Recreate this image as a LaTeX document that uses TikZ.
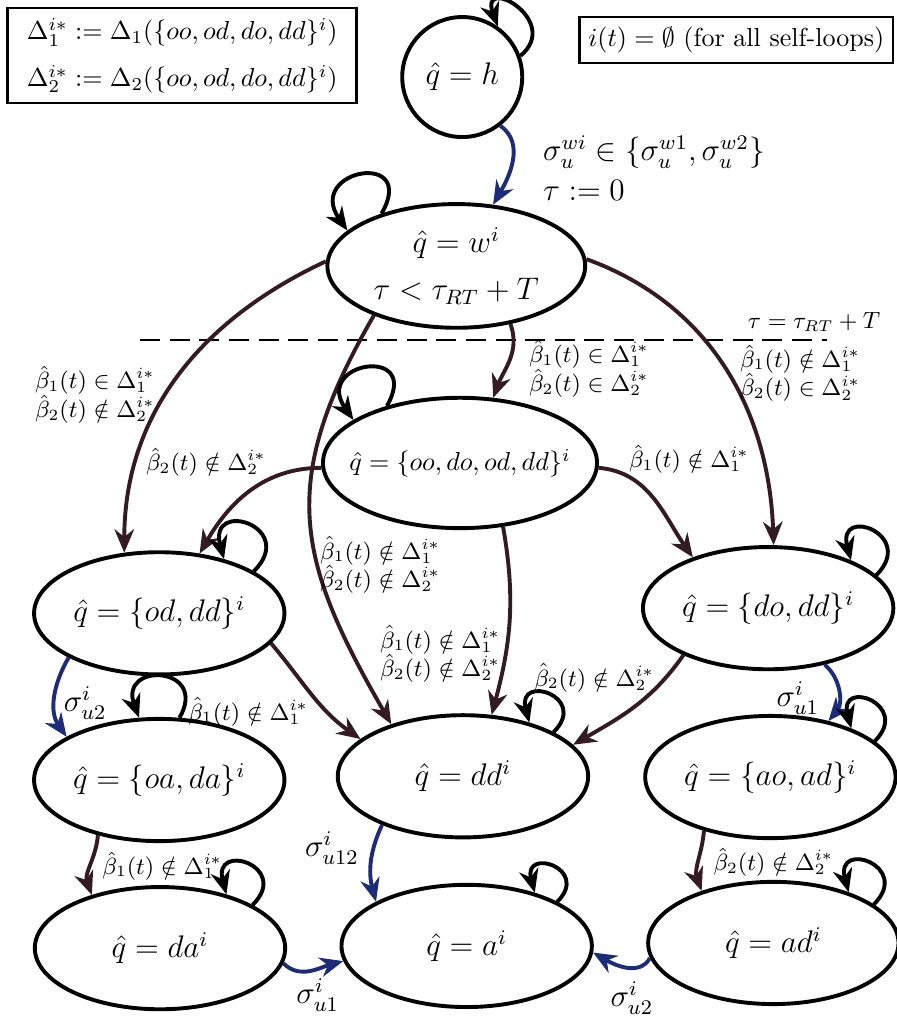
\documentclass[tikz,border=0pt]{standalone}
\usepackage{amsmath,amssymb}
\usepackage{tikz}
\usetikzlibrary{arrows.meta,shapes.geometric,positioning}
\definecolor{evtred}{RGB}{52,26,34}
\definecolor{ctlblue}{RGB}{28,44,122}

\begin{document}
\begin{tikzpicture}[
  >={Stealth[length=9pt,width=7.5pt]},
  state/.style={draw, ellipse, line width=1.5pt, inner sep=0pt,
                minimum width=3.38cm, minimum height=1.65cm, font=\large},
  trans/.style={->, line width=1.5pt, color=evtred},
  ctrl/.style={->, line width=1.5pt, color=ctlblue},
  selfloop/.style={->, line width=1.5pt, looseness=5},
  lbl/.style={font=\small, align=center, inner sep=1pt},
  sig/.style={font=\large, inner sep=1pt}]
  \useasboundingbox (0,0) rectangle (12.096,-13.824);

  % boxes
  \node[draw, line width=1pt, minimum width=4.71cm, minimum height=1.28cm, align=center] (defs) at (2.46,-0.75)
    {$\Delta_1^{i*} := \Delta_1(\{oo,od,do,dd\}^i)$\\[6pt]$\Delta_2^{i*} := \Delta_2(\{oo,od,do,dd\}^i)$};
  \node[draw, line width=1pt, minimum width=4.23cm, minimum height=0.62cm] (note) at (9.94,-0.54)
    {$i(t)=\emptyset$ (for all self-loops)};

  % states
  \node[draw, circle, line width=1.5pt, minimum size=1.62cm, inner sep=0pt, font=\large] (h) at (6.24,-1.04) {$\hat{q}=h$};
  \node[state, minimum width=3.48cm, minimum height=1.67cm, align=center] (w) at (6.16,-3.59)
    {$\hat{q}=w^i$\\[4pt]$\tau<\tau_{RT}+T$};
  \node[state, minimum width=3.70cm, minimum height=1.76cm, font=\normalsize] (q0) at (6.21,-6.25)
    {\makebox[2.4cm]{$\hat{q}=\{oo,do,od,dd\}^i$}};
  \node[state] (odd)  at (2.15,-8.28)  {$\hat{q}=\{od,dd\}^i$};
  \node[state] (dod)  at (10.37,-8.21) {$\hat{q}=\{do,dd\}^i$};
  \node[state] (oada) at (2.15,-10.53) {$\hat{q}=\{oa,da\}^i$};
  \node[state] (dd)   at (6.25,-10.48) {$\hat{q}=dd^i$};
  \node[state] (aoad) at (10.40,-10.49) {$\hat{q}=\{ao,ad\}^i$};
  \node[state] (da)   at (2.16,-12.80) {$\hat{q}=da^i$};
  \node[state] (a)    at (6.30,-12.77) {$\hat{q}=a^i$};
  \node[state] (ad)   at (10.44,-12.73) {$\hat{q}=ad^i$};

  % time-out line
  \coordinate (cutL) at (1.89,-4.59);
  \coordinate (cutR) at (11.16,-4.59);
  \draw[dash pattern=on 0.27cm off 0.13cm, line width=0.6pt] (cutL) -- (cutR);
  \node[lbl] (tout) at (10.99,-4.35) {$\tau=\tau_{RT}+T$};

  % transitions
  \draw[ctrl] (h.-52) to[out=-35, in=60] (w.59);
  \draw[trans] (w.178) to[out=205, in=90] (odd.120);
  \draw[trans] (w.-47) to[out=-70, in=70] (q0.63);
  \draw[trans] (w.211) to[out=240, in=120, looseness=1.2] (dd.144);
  \draw[trans] (w.3) to[out=-20, in=92] (dod.85);
  \draw[trans] (q0.182) to[out=180, in=60] (odd.56);
  \draw[trans] (q0.-2) to[out=-5, in=125] (dod.146);
  \draw[trans] (q0.-56) to[out=-80, in=75] (dd.65);
  \draw[trans] (odd.-15) to[out=-50, in=145] (dd.160);
  \draw[trans] (dod.209) to[out=235, in=30] (dd.16);
  \draw[ctrl] (odd.206) to[out=240, in=125] (oada.155);
  \draw[ctrl] (dod.-45) to[out=-40, in=50] (aoad.44);
  \draw[trans] (oada.222) to[out=-95, in=110] (da.142);
  \draw[trans] (aoad.219) to[out=-95, in=110] (ad.144);
  \draw[ctrl] (dd.211) to[out=245, in=105] (a.154);
  \draw[ctrl] (da.-7) to[out=-45, in=195] (a.187);
  \draw[ctrl] (ad.187) to[out=240, in=-30] (a.-3);

  % self-loops
  \draw[selfloop, looseness=3.8] (h.20) to[out=40, in=110] (h.55);
  \draw[selfloop] (w.145) to[out=60, in=125] (w.162);
  \draw[selfloop] (q0.142) to[out=60, in=125] (q0.158);
  \draw[selfloop] (odd.24) to[out=45, in=105] (odd.40);
  \draw[selfloop] (dod.17) to[out=45, in=105] (dod.30);
  \draw[selfloop, looseness=3.8] (oada.72) to[out=60, in=110] (oada.108);
  \draw[selfloop] (dd.26) to[out=45, in=105] (dd.39);
  \draw[selfloop] (aoad.19) to[out=45, in=105] (aoad.31);
  \draw[selfloop] (da.25) to[out=45, in=105] (da.39);
  \draw[selfloop] (a.26) to[out=45, in=105] (a.38);
  \draw[selfloop] (ad.21) to[out=45, in=105] (ad.34);

  % labels
  \node[sig, anchor=west] (l-hw1) at (7.29,-2.05) {$\sigma_u^{wi}\in\{\sigma_u^{w1},\sigma_u^{w2}\}$};
  \node[sig, anchor=west] (l-hw2) at (7.29,-2.57) {$\tau:=0$};
  \node[lbl] (l-wodd) at (1.28,-5.33) {$\hat{\beta}_1(t)\in\Delta_1^{i*}$\\$\hat{\beta}_2(t)\notin\Delta_2^{i*}$};
  \node[lbl] (l-wq0) at (7.95,-4.98) {$\hat{\beta}_1(t)\in\Delta_1^{i*}$\\$\hat{\beta}_2(t)\in\Delta_2^{i*}$};
  \node[lbl] (l-wdod) at (10.8,-5.04) {$\hat{\beta}_1(t)\notin\Delta_1^{i*}$\\$\hat{\beta}_2(t)\in\Delta_2^{i*}$};
  \node[lbl] (l-q0odd) at (2.78,-6.24) {$\hat{\beta}_2(t)\notin\Delta_2^{i*}$};
  \node[lbl] (l-q0dod) at (9.30,-6.20) {$\hat{\beta}_1(t)\notin\Delta_1^{i*}$};
  \node[lbl] (l-wdd) at (5.13,-7.63) {$\hat{\beta}_1(t)\notin\Delta_1^{i*}$\\$\hat{\beta}_2(t)\notin\Delta_2^{i*}$};
  \node[lbl] (l-q0dd) at (5.94,-8.83) {$\hat{\beta}_1(t)\notin\Delta_1^{i*}$\\$\hat{\beta}_2(t)\notin\Delta_2^{i*}$};
  \node[lbl] (l-doddd) at (8.02,-9.15) {$\hat{\beta}_2(t)\notin\Delta_2^{i*}$};
  \node[lbl] (l-odddd) at (3.35,-9.61) {$\hat{\beta}_1(t)\notin\Delta_1^{i*}$};
  \node[sig] (l-oddoada) at (1.15,-9.49) {$\sigma_{u2}^i$};
  \node[sig] (l-dodaoad) at (10.77,-9.42) {$\sigma_{u1}^i$};
  \node[lbl] (l-oadada) at (2.19,-11.69) {$\hat{\beta}_1(t)\notin\Delta_1^{i*}$};
  \node[lbl] (l-aoadad) at (10.44,-11.64) {$\hat{\beta}_2(t)\notin\Delta_2^{i*}$};
  \node[sig] (l-dda) at (4.48,-11.45) {$\sigma_{u12}^i$};
  \node[sig] (l-daa) at (4.29,-13.43) {$\sigma_{u1}^i$};
  \node[sig] (l-ada) at (8.53,-13.47) {$\sigma_{u2}^i$};
\end{tikzpicture}
\end{document}
